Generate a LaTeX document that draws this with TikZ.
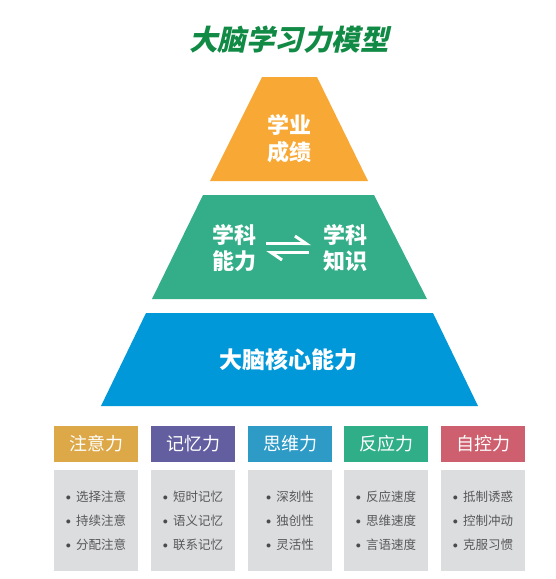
\documentclass[tikz,border=0pt]{standalone}
\usepackage{fontspec}
\setmainfont{Noto Sans CJK SC}
\newfontfamily\slantcjk{Noto Sans CJK SC}[FakeSlant=0.22]
\usetikzlibrary{arrows.meta}

\definecolor{titlegreen}{RGB}{16,138,68}
\definecolor{pyorange}{RGB}{248,168,52}
\definecolor{pygreen}{RGB}{51,174,136}
\definecolor{pyblue}{RGB}{0,152,216}
\definecolor{hdrgold}{RGB}{221,168,72}
\definecolor{hdrpurple}{RGB}{99,94,160}
\definecolor{hdrblue}{RGB}{45,155,198}
\definecolor{hdrgreen}{RGB}{48,174,136}
\definecolor{hdrred}{RGB}{206,95,110}
\definecolor{boxgrey}{RGB}{220,221,223}
\definecolor{itemgrey}{RGB}{88,88,90}

\newcommand{\itemdot}{{\color{itemgrey!85!black}\raisebox{1.2pt}{\scalebox{0.85}{$\bullet$}}}\hspace{5pt}}

\begin{document}
\begin{tikzpicture}[x=1pt,y=-1pt,
  lvl/.style={text=white,font=\fontsize{22}{26}\selectfont\bfseries,align=center,inner sep=0pt},
  hdr/.style={text=white,minimum width=84pt,minimum height=36pt,inner sep=0pt,font=\fontsize{18}{20}\selectfont},
  itembox/.style={fill=boxgrey,text=itemgrey,minimum width=84pt,minimum height=101pt,inner sep=0pt,align=left,font=\fontsize{12.5}{24}\selectfont},
  harpoon/.style={white,line width=3pt,-{Straight Barb[left,length=11pt,width=15pt]}}]
  \useasboundingbox (0,0) rectangle (556,579);
  \node[text=titlegreen,font=\slantcjk\fontsize{28.5}{32}\selectfont\bfseries] (title) at (289,40) {大脑学习力模型};
  \fill[pyorange] (262,77) -- (317,77) -- (368,181) -- (210,181) -- cycle;
  \fill[pygreen] (203,195) -- (374,195) -- (427,299) -- (152,299) -- cycle;
  \fill[pyblue] (146,313) -- (433,313) -- (478,406) -- (101,406) -- cycle;
  \node[lvl,font=\fontsize{22}{27}\selectfont\bfseries] (grades) at (289,139) {学业\\成绩};
  \node[lvl] (ability) at (234,248) {学科\\能力};
  \node[lvl] (knowledge) at (345,248) {学科\\知识};
  \node[lvl,font=\fontsize{23}{26}\selectfont\bfseries] (core) at (288,360) {大脑核心能力};
  \draw[harpoon] ([xshift=10pt,yshift=4.5pt]ability.east) -- ([xshift=-12pt,yshift=4.5pt]knowledge.west);
  \draw[harpoon] ([xshift=-14pt,yshift=-4.5pt]knowledge.west) -- ([xshift=10pt,yshift=-4.5pt]ability.east);
  \foreach \i/\x/\c/\t/\a/\b/\d in
    {1/96/hdrgold/注意力/选择注意/持续注意/分配注意,
     2/193/hdrpurple/记忆力/短时记忆/语义记忆/联系记忆,
     3/290/hdrblue/思维力/深刻性/独创性/灵活性,
     4/386/hdrgreen/反应力/反应速度/思维速度/言语速度,
     5/483/hdrred/自控力/抵制诱惑/控制冲动/克服习惯} {
    \node[hdr,fill=\c] (hdr\i) at (\x,444) {\t};
    \node[itembox] (items\i) at (\x,520.5) {\itemdot\a\\\itemdot\b\\\itemdot\d};
  }
\end{tikzpicture}
\end{document}
